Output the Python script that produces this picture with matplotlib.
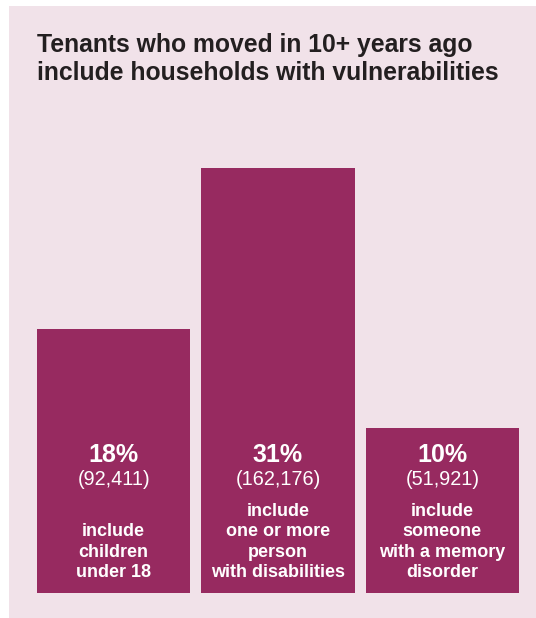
import matplotlib.pyplot as plt
from matplotlib.patches import Rectangle
import matplotlib.transforms as mtransforms

# data
shares = [18, 31, 10]
counts = ["(92,411)", "(162,176)", "(51,921)"]
labels = [
    "include\nchildren\nunder 18",
    "include\none or more\nperson\nwith disabilities",
    "include\nsomeone\nwith a memory\ndisorder",
]
title = "Tenants who moved in 10+ years ago\ninclude households with vulnerabilities"

BAR = "#972a60"
BG = "#f1e2e9"
INK = "#231f20"
BASE = 3.3  # bars start below zero in the original layout

plt.rcParams["font.family"] = ["Liberation Sans", "DejaVu Sans"]

W, H = 536, 618
fig = plt.figure(figsize=(W / 100, H / 100), dpi=100)
fig.patch.set_facecolor("white")
fig.patches.append(Rectangle((9 / W, 0), 1, (H - 6) / H, transform=fig.transFigure,
                             facecolor=BG, edgecolor="none", zorder=-10))

ax = fig.add_axes([37 / W, (H - 593) / H, (519 - 37) / W, (593 - 168) / H])
ax.set_facecolor("none")
x = range(len(shares))
ax.bar(x, [s + BASE for s in shares], bottom=-BASE, width=0.933, color=BAR)
ax.set_xlim(-0.4667, 2.4667)
ax.set_ylim(-BASE, max(shares))
ax.axis("off")

tr = mtransforms.blended_transform_factory(ax.transData, ax.transAxes)
for i, (s, c, lb) in enumerate(zip(shares, counts, labels)):
    ax.text(i, 0.3255, f"{s}%", transform=tr, ha="center", va="center",
            fontsize=18, fontweight="bold", color="white")
    ax.text(i, 0.266, c, transform=tr, ha="center", va="center",
            fontsize=14.3, color="white")
    ax.text(i, 0.028, lb, transform=tr, ha="center", va="bottom",
            fontsize=13, fontweight="bold", color="white", linespacing=1.27)

# multi-line baseline anchors the last line here
fig.text(37 / W, (H - 80) / H, title, ha="left", va="baseline",
         fontsize=17.8, fontweight="bold", color=INK, linespacing=1.22)

fig.savefig("out.png", dpi=100)
